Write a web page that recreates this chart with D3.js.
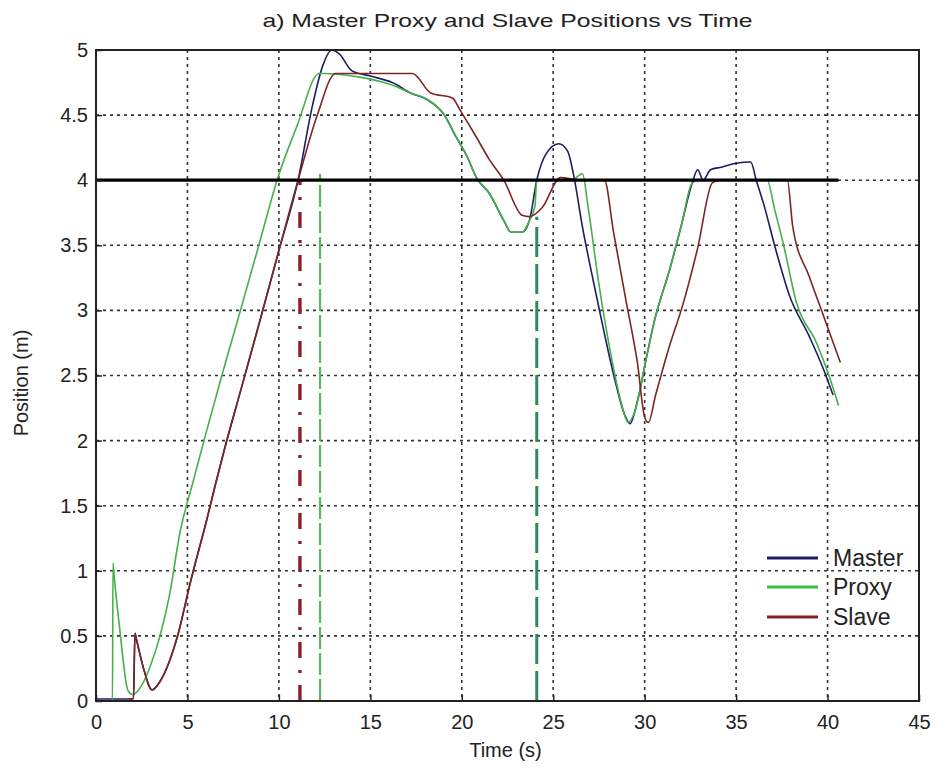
<!DOCTYPE html>
<html>
<head>
<meta charset="utf-8">
<script src="https://cdn.jsdelivr.net/npm/d3@7"></script>
<style>
  html, body { margin: 0; padding: 0; background: #fff; }
  svg { display: block; }
  text { font-family: "Liberation Sans", Arial, sans-serif; fill: #222; }
</style>
</head>
<body>
<svg id="chart" width="939" height="777"></svg>
<script>
// ---------------- data ----------------
const titleText = "a) Master Proxy and Slave Positions vs Time";
const xLabel = "Time (s)";
const yLabel = "Position (m)";
const xTicks = [0, 5, 10, 15, 20, 25, 30, 35, 40, 45];
const yTicks = [0, 0.5, 1, 1.5, 2, 2.5, 3, 3.5, 4, 4.5, 5];
const seriesNames = ["Master", "Proxy", "Slave"];

const masterTime = [0, 1.8, 2.05, 2.13, 2.2, 2.6, 3.06, 3.5, 4.0, 4.5, 5.14, 6.07, 6.56, 7.0, 8.0, 9.0, 10.0, 11.05,
  11.8, 12.4, 12.9, 13.3, 14.0, 15.0, 16.2, 17.2, 18.1, 19.0, 19.7, 20.3, 20.8, 21.5, 22.3, 22.7, 23.3, 23.7,
  24.1, 24.6, 25.3, 25.8, 26.1, 26.6, 27.2, 27.8, 28.4, 28.9, 29.2, 29.6, 30.1, 30.5, 31.4, 32.0, 32.6,
  32.9, 33.2, 33.6, 34.2, 35.0, 35.8, 36.1, 36.5, 37.2, 37.9, 39.0, 39.8, 40.3];
const masterPos = [0.015, 0.015, 0.02, 0.52, 0.48, 0.25, 0.085, 0.15, 0.3, 0.52, 0.9, 1.4, 1.68, 1.92, 2.43, 2.94, 3.46, 4.0,
  4.55, 4.88, 5.0, 4.97, 4.84, 4.8, 4.75, 4.67, 4.62, 4.51, 4.33, 4.18, 4.02, 3.9, 3.69, 3.6, 3.6, 3.69,
  4.0, 4.2, 4.28, 4.22, 4.05, 3.64, 3.22, 2.82, 2.45, 2.2, 2.13, 2.3, 2.64, 2.9, 3.33, 3.65, 3.98,
  4.08, 4.0, 4.08, 4.1, 4.13, 4.14, 4.0, 3.82, 3.45, 3.12, 2.8, 2.54, 2.35];

const proxyTime = [0.85, 0.9, 0.93, 1.0, 1.3, 1.75, 2.0, 2.5, 3.0, 3.5, 4.0, 4.6, 5.3, 6.0, 7.0, 8.0, 9.0, 9.9, 11.0,
  12.2, 12.5, 13.5, 14.5, 15.5, 16.4, 17.2, 18.1, 19.0, 19.7, 20.3, 20.8, 21.5, 22.3, 22.7, 23.3, 23.7, 24.0,
  24.1, 25.0, 26.0, 26.6, 26.9, 27.5, 28.1, 28.7, 29.1, 29.4, 30.1, 30.5, 31.4, 32.0, 32.6, 33.0, 34.0, 35.0,
  36.0, 36.7, 37.1, 37.6, 38.3, 39.4, 40.1, 40.6];
const proxyPos = [0, 0, 1.06, 0.95, 0.55, 0.08, 0.05, 0.12, 0.28, 0.5, 0.8, 1.3, 1.68, 2.05, 2.56, 3.05, 3.55, 4.0, 4.42,
  4.82, 4.82, 4.81, 4.79, 4.76, 4.72, 4.67, 4.62, 4.51, 4.33, 4.18, 4.02, 3.9, 3.69, 3.6, 3.6, 3.69, 3.8,
  4.0, 4.0, 4.0, 4.05, 3.8, 3.2, 2.7, 2.3, 2.14, 2.2, 2.64, 2.9, 3.33, 3.65, 3.98, 4.0, 4.0, 4.0,
  4.0, 4.0, 3.78, 3.5, 3.06, 2.75, 2.49, 2.27];

const slaveTime = [1.8, 2.05, 2.13, 2.2, 2.6, 3.06, 3.5, 4.0, 4.5, 5.14, 6.07, 6.56, 7.0, 8.0, 9.0, 10.0, 11.05, 12.1,
  13.1, 14.0, 15.0, 16.0, 17.3, 18.3, 19.5, 19.9, 20.8, 21.5, 22.3, 23.3, 23.7, 24.4, 25.4, 26.5, 27.8, 28.3,
  29.0, 29.6, 30.0, 30.2, 30.6, 31.3, 32.1, 32.9, 33.7, 34.1, 35.0, 36.0, 37.0, 37.8, 38.1, 39.0, 39.8, 40.7];
const slavePos = [0.015, 0.02, 0.52, 0.48, 0.25, 0.085, 0.15, 0.3, 0.52, 0.9, 1.4, 1.68, 1.92, 2.43, 2.94, 3.46, 4.0, 4.5,
  4.82, 4.82, 4.82, 4.82, 4.82, 4.67, 4.63, 4.54, 4.33, 4.16, 4.0, 3.73, 3.72, 3.79, 4.02, 4.0, 4.0, 3.6,
  3.06, 2.6, 2.18, 2.14, 2.35, 2.7, 3.05, 3.48, 3.98, 4.0, 4.0, 4.0, 4.0, 4.0, 3.64, 3.26, 2.95, 2.6];

// reference / marker lines
const wallLevel = 4;
const wallEnd = 40.6;
const markerRedTime = 11.15, markerRedTop = 4.0;
const markerGreenTime = 12.25, markerGreenTop = 4.05;
const markerTealTime = 24.1, markerTealTop = 3.72;

// ---------------- drawing ----------------
(function () {
const svg = d3.select("#chart");
const pL = 96, pR = 919, pT = 50, pB = 701;
const x = d3.scaleLinear().domain([0, 45]).range([pL, pR]);
const y = d3.scaleLinear().domain([0, 5]).range([pB, pT]);

const colors = { Master: "#1d1d66", Proxy: "#45b04a", Slave: "#7d2424" };

// grid
const grid = svg.append("g");
grid.selectAll("line.vx").data(xTicks.filter(d => d > 0 && d < 45)).join("line")
  .attr("x1", d => x(d)).attr("x2", d => x(d)).attr("y1", pT).attr("y2", pB)
  .attr("stroke", "#333").attr("stroke-width", 1.6).attr("stroke-dasharray", "3,4");
grid.selectAll("line.hy").data(yTicks.filter(d => d > 0 && d < 5)).join("line")
  .attr("x1", pL).attr("x2", pR).attr("y1", d => y(d)).attr("y2", d => y(d))
  .attr("stroke", "#333").attr("stroke-width", 1.6).attr("stroke-dasharray", "3,4");

// marker verticals
svg.append("line").attr("x1", x(markerTealTime)).attr("x2", x(markerTealTime))
  .attr("y1", y(0)).attr("y2", y(markerTealTop))
  .attr("stroke", "#2e8b5a").attr("stroke-width", 3).attr("stroke-dasharray", "30,7");
svg.append("line").attr("x1", x(markerGreenTime)).attr("x2", x(markerGreenTime))
  .attr("y1", y(0)).attr("y2", y(markerGreenTop))
  .attr("stroke", "#5cb85c").attr("stroke-width", 2.2).attr("stroke-dasharray", "22,4");
svg.append("line").attr("x1", x(markerRedTime)).attr("x2", x(markerRedTime))
  .attr("y1", y(0)).attr("y2", y(markerRedTop))
  .attr("stroke", "#8e1f2a").attr("stroke-width", 3.4).attr("stroke-dasharray", "16,12,3,12");

// series
const line = d3.line().x(d => x(d[0])).y(d => y(d[1])).curve(d3.curveMonotoneX);
const series = [
  { name: "Master", data: d3.zip(masterTime, masterPos) },
  { name: "Proxy", data: d3.zip(proxyTime, proxyPos) },
  { name: "Slave", data: d3.zip(slaveTime, slavePos) }
];
svg.append("g").selectAll("path").data(series).join("path")
  .attr("d", d => line(d.data))
  .attr("fill", "none")
  .attr("stroke", d => colors[d.name])
  .attr("stroke-width", 1.6)
  .attr("stroke-linejoin", "round");

// wall line
svg.append("line").attr("x1", x(0)).attr("x2", x(wallEnd))
  .attr("y1", y(wallLevel)).attr("y2", y(wallLevel))
  .attr("stroke", "#000").attr("stroke-width", 3.2);

// box
svg.append("rect").attr("x", pL).attr("y", pT).attr("width", pR - pL).attr("height", pB - pT)
  .attr("fill", "none").attr("stroke", "#222").attr("stroke-width", 2);

// axes
const xAxis = d3.axisBottom(x).tickValues(xTicks).tickSizeInner(-6).tickSizeOuter(0).tickPadding(14).tickFormat(d => d);
const gx = svg.append("g").attr("transform", `translate(0,${pB})`).call(xAxis);
const yAxis = d3.axisLeft(y).tickValues(yTicks).tickSizeInner(-6).tickSizeOuter(0).tickPadding(8).tickFormat(d => d);
const gy = svg.append("g").attr("transform", `translate(${pL},0)`).call(yAxis);
[gx, gy].forEach(g => {
  g.select(".domain").remove();
  g.selectAll(".tick line").attr("stroke", "#222").attr("stroke-width", 1.5);
  g.selectAll(".tick text").attr("font-size", 20).style("fill", "#222")
    .attr("font-family", "'Liberation Sans', Arial, sans-serif");
});

// title and labels
svg.append("text").attr("x", (pL + pR) / 2).attr("y", 27).attr("text-anchor", "middle")
  .attr("font-size", 19).attr("textLength", 490).attr("lengthAdjust", "spacingAndGlyphs").text(titleText);
svg.append("text").attr("x", (pL + pR) / 2 - 2).attr("y", 757).attr("text-anchor", "middle")
  .attr("font-size", 20).text(xLabel);
svg.append("text").attr("transform", `translate(28,383) rotate(-90)`).attr("text-anchor", "middle")
  .attr("font-size", 20).text(yLabel);

// legend
const legendY = [558, 587, 617];
const lg = svg.append("g");
seriesNames.forEach((n, i) => {
  lg.append("line").attr("x1", 767).attr("x2", 818).attr("y1", legendY[i]).attr("y2", legendY[i])
    .attr("stroke", n === "Proxy" ? "#3cbf3c" : colors[n]).attr("stroke-width", 3.2);
  lg.append("text").attr("x", 833).attr("y", legendY[i] + 8).attr("font-size", 23).text(n);
});
})();
</script>
</body>
</html>
